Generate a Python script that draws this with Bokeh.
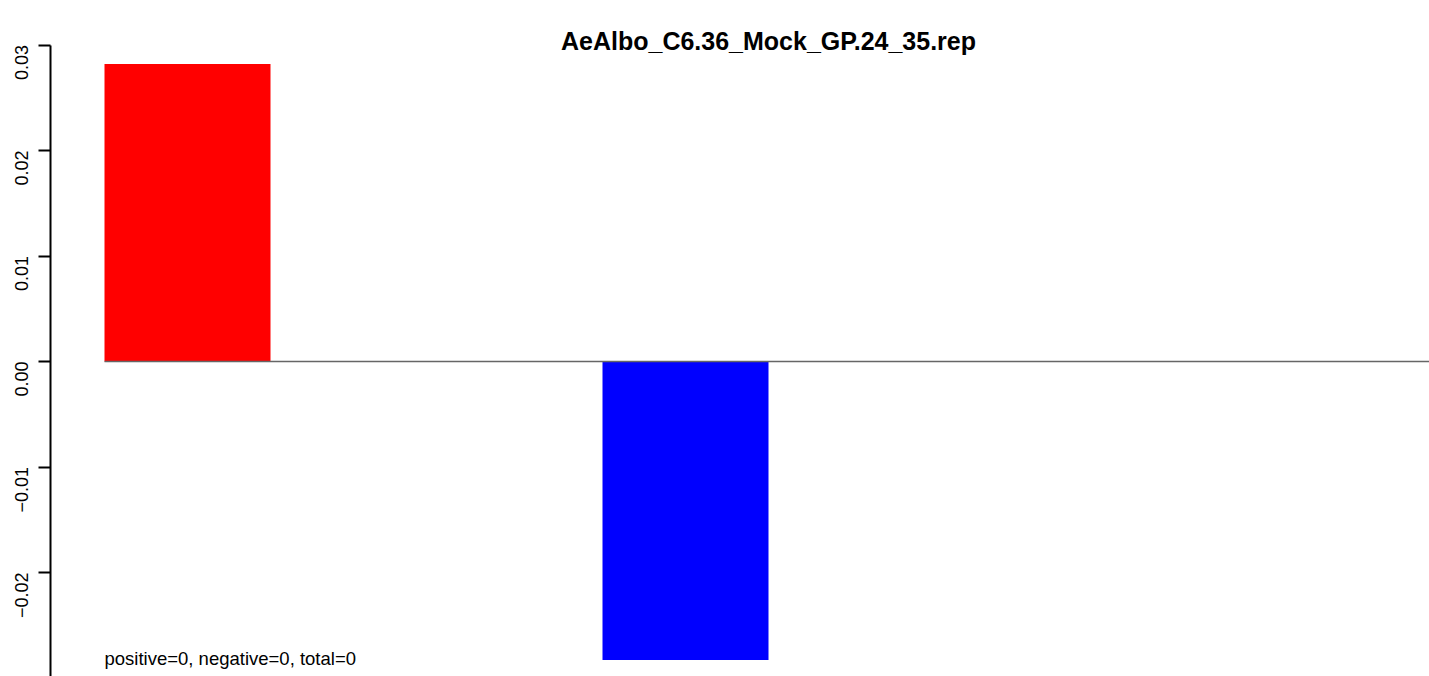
import math
from bokeh.plotting import figure
from bokeh.models import Range1d, Label, FixedTicker, CustomJSTickFormatter, ColumnDataSource
from bokeh.embed import file_html
from bokeh.resources import INLINE

# ---- data ----
title_text = "AeAlbo_C6.36_Mock_GP.24_35.rep"
categories = ["positive", "negative"]
values = [0.0282, -0.0283]
bar_colors = ["#FF0000", "#0000FF"]
y_ticks = [-0.03, -0.02, -0.01, 0.0, 0.01, 0.02, 0.03]
footer_text = "positive=0, negative=0, total=0"

# ---- layout ----
W, H = 1429, 676
left_border = 50
bar_width = 1.0
bar_step = 3.0
xs = [1.0 + bar_step * i for i in range(len(categories))]
px_per_x = 166.0
px_per_y = 10550.0
zero_px = 361.0
x_start = xs[0] - bar_width / 2 - 54.0 / px_per_x
x_end = x_start + (W - left_border) / px_per_x
y_hi = zero_px / px_per_y
y_lo = -(H - zero_px) / px_per_y

FONT = "Liberation Sans"

p = figure(width=W, height=H, output_backend="svg", toolbar_location=None,
           x_range=Range1d(x_start, x_end), y_range=Range1d(y_lo, y_hi),
           x_axis_location=None, min_border_left=left_border, min_border_right=0,
           min_border_top=0, min_border_bottom=0)
p.outline_line_color = None
p.xgrid.visible = False
p.ygrid.visible = False
p.background_fill_color = "white"
p.border_fill_color = "white"

src = ColumnDataSource(dict(x=xs, top=values, color=bar_colors, cat=categories))
p.vbar(x="x", top="top", bottom=0, width=bar_width, fill_color="color",
       line_color=None, source=src)

# zero line from the first bar's left edge to the right
p.segment(x0=[xs[0] - bar_width / 2], y0=[0], x1=[x_end + 1], y1=[0],
          line_color="#666666", line_width=1.3)

ax = p.yaxis[0]
ax.ticker = FixedTicker(ticks=y_ticks)
ax.formatter = CustomJSTickFormatter(code="""
    const s = Math.abs(tick).toFixed(2);
    return (tick < -1e-12 ? '\\u2212' : '') + s;
""")
ax.bounds = (y_ticks[0], y_ticks[-1])
ax.axis_line_width = 2
ax.axis_line_color = "black"
ax.major_tick_line_width = 2
ax.major_tick_out = 12
ax.major_tick_in = 0
ax.minor_tick_line_color = None
ax.major_label_orientation = math.pi / 2
ax.major_label_text_font = FONT
ax.major_label_text_font_size = "18px"
ax.major_label_text_color = "black"
ax.major_label_standoff = 17

# title
p.add_layout(Label(x=x_start + (768 - 50) / px_per_x, y=(zero_px - 40) / px_per_y,
                   text=title_text, text_align="center", text_baseline="alphabetic",
                   text_font=FONT, text_font_style="bold", text_font_size="25px",
                   text_color="black"))

# footer text
p.add_layout(Label(x=xs[0] - bar_width / 2, y=(zero_px - 658) / px_per_y, text=footer_text,
                   text_align="left", text_baseline="alphabetic",
                   text_font=FONT, text_font_size="18.5px", text_color="black"))

open("out.html", "w").write(file_html(p, INLINE))
